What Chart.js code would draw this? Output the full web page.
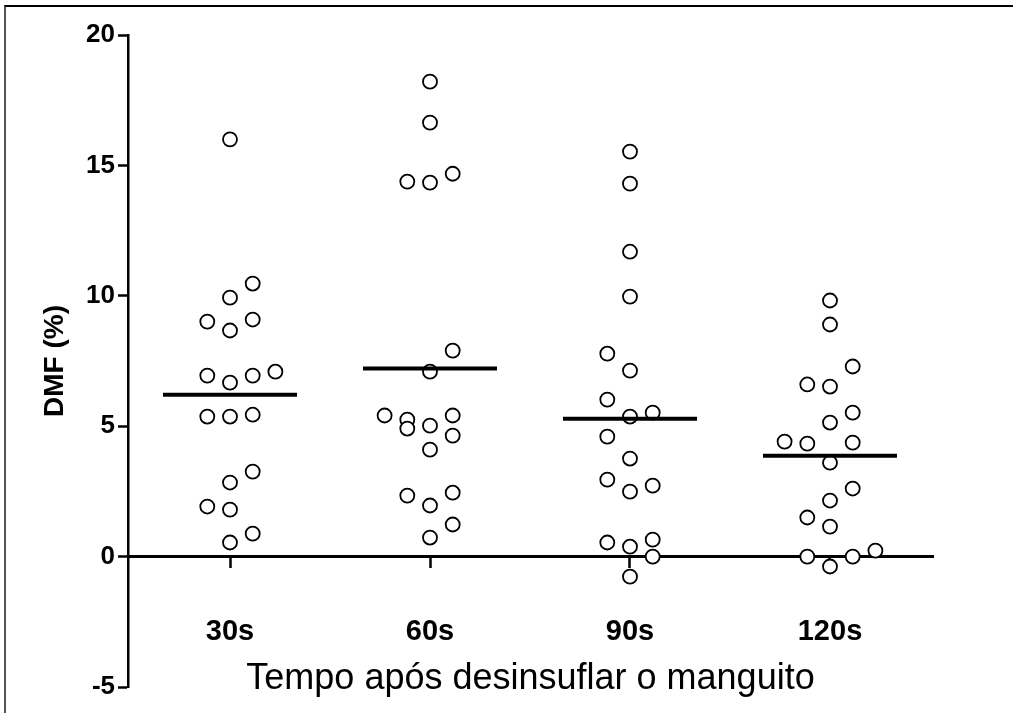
<!DOCTYPE html>
<html>
<head>
<meta charset="utf-8">
<script src="https://cdn.jsdelivr.net/npm/chart.js@4.4.1/dist/chart.umd.min.js"></script>
<style>
  html, body { margin: 0; padding: 0; background: #fff; overflow: hidden; }
  #wrap { position: relative; width: 1013px; height: 713px; overflow: hidden; }
  #frame {
    position: absolute; left: 4px; top: 5px; width: 1100px; height: 800px;
    border-left: 2px solid #555; border-top: 2px solid #000;
  }
  #dmfChart { position: absolute; left: 0; top: 0; }
</style>
</head>
<body>
<div id="wrap">
  <div id="frame"></div>
  <canvas id="dmfChart" width="1013" height="713"></canvas>
</div>
<script>
const categories = ["30s", "60s", "90s", "120s"];
const yTicks = [-5, 0, 5, 10, 15, 20];

// DMF (%) per subject
const dmf30 = [16.0, 10.47, 9.93, 9.01, 9.09, 8.67, 6.94, 6.67, 6.94, 7.09, 5.37, 5.37, 5.44, 3.26, 2.84, 1.92, 1.80, 0.88, 0.54];
const dmf60 = [18.21, 16.64, 14.38, 14.34, 14.68, 7.90, 7.09, 5.41, 5.25, 4.91, 5.02, 5.41, 4.64, 4.10, 2.34, 1.96, 2.45, 1.23, 0.73];
const dmf90 = [15.53, 14.30, 11.69, 9.97, 7.78, 7.13, 6.02, 5.37, 5.52, 4.60, 3.76, 2.95, 2.49, 2.72, 0.54, 0.38, 0.65, 0.0, -0.77];
const dmf120 = [9.82, 8.90, 7.29, 6.60, 6.52, 5.52, 5.14, 4.41, 4.33, 4.37, 3.60, 2.61, 2.15, 1.50, 1.15, 0.0, -0.38, 0.0, 0.23];

// column slot of each dot in the dot plot (spreads overlapping values)
const slots30 = [0, 1, 0, -1, 1, 0, -1, 0, 1, 2, -1, 0, 1, 1, 0, -1, 0, 1, 0];
const slots60 = [0, 0, -1, 0, 1, 1, 0, -2, -1, -1, 0, 1, 1, 0, -1, 0, 1, 1, 0];
const slots90 = [0, 0, 0, 0, -1, 0, -1, 0, 1, -1, 0, -1, 0, 1, -1, 0, 1, 1, 0];
const slots120 = [0, 0, 1, -1, 0, 1, 0, -2, -1, 1, 0, 1, 0, -1, 0, -1, 0, 1, 2];

// horizontal bar drawn for each group
const groupMeans = [6.21, 7.21, 5.29, 3.87];

const groups = [
  { values: dmf30, slots: slots30 },
  { values: dmf60, slots: slots60 },
  { values: dmf90, slots: slots90 },
  { values: dmf120, slots: slots120 },
];

const SLOT_STEP = 0.1135;
const BAR_HALF = 0.335;
const FONT = "Arial, 'Liberation Sans', Helvetica, sans-serif";

function buildDatasets() {
  const dots = [];
  groups.forEach((g, i) => {
    g.values.forEach((v, j) => {
      dots.push({ x: i + g.slots[j] * SLOT_STEP, y: v });
    });
  });

  const datasets = [
    {
      label: "DMF",
      data: dots,
      pointRadius: 7,
      pointHoverRadius: 7,
      pointBackgroundColor: "#fff",
      pointBorderColor: "#000",
      pointBorderWidth: 1.8,
      order: 2,
    },
  ];

  groupMeans.forEach((m, i) => {
    datasets.push({
      label: "mean " + categories[i],
      data: [{ x: i - BAR_HALF, y: m }, { x: i + BAR_HALF, y: m }],
      showLine: true,
      borderColor: "#000",
      borderWidth: 4,
      pointRadius: 0,
      order: 1,
    });
  });
  return datasets;
}

function initChart() {
  const canvas = document.getElementById("dmfChart");
  if (!canvas || !window.Chart) return;

  new Chart(canvas.getContext("2d"), {
    type: "scatter",
    data: { datasets: buildDatasets() },
    options: {
      responsive: false,
      animation: false,
      layout: { padding: { top: 35, right: 80, bottom: 0, left: 0 } },
      plugins: {
        legend: { display: false },
        tooltip: { enabled: false },
        // x-axis title sits under the zero-line axis, inside the plot's bottom band
        title: {
          display: true,
          position: "bottom",
          fullSize: false,
          text: "Tempo após desinsuflar o manguito",
          color: "#000",
          padding: { top: -29.2, bottom: 12 },
          font: { family: FONT, size: 36, weight: "normal", lineHeight: 1.2 },
        },
      },
      scales: {
        x: {
          type: "linear",
          position: { y: 0 },
          min: -0.51,
          max: 3.515,
          z: 1,
          afterBuildTicks: (scale) => {
            scale.ticks = categories.map((_, i) => ({ value: i }));
          },
          border: { display: true, color: "#000", width: 3 },
          grid: {
            drawOnChartArea: false,
            drawTicks: true,
            tickLength: 10,
            tickColor: "#000",
            tickWidth: 2.5,
          },
          ticks: {
            color: "#000",
            padding: 48,
            maxRotation: 0,
            font: { family: FONT, size: 29, weight: "bold" },
            callback: (val) => categories[Math.round(val)] || "",
          },
        },
        y: {
          position: "left",
          min: -5,
          max: 20,
          afterBuildTicks: (scale) => {
            scale.ticks = yTicks.map((v) => ({ value: v }));
          },
          afterFit: (scale) => {
            scale.width = 128;
          },
          border: { display: true, color: "#000", width: 2.5 },
          grid: {
            drawOnChartArea: false,
            drawTicks: true,
            tickLength: 10,
            tickColor: "#000",
            tickWidth: 2.5,
          },
          ticks: {
            color: "#000",
            padding: 3,
            font: { family: FONT, size: 26, weight: "bold" },
          },
          title: {
            display: true,
            text: "DMF (%)",
            color: "#000",
            padding: { top: 38, bottom: 0 },
            font: { family: FONT, size: 28, weight: "bold" },
          },
        },
      },
    },
  });
}

document.addEventListener("DOMContentLoaded", () => {
  initChart();
});
</script>
</body>
</html>
